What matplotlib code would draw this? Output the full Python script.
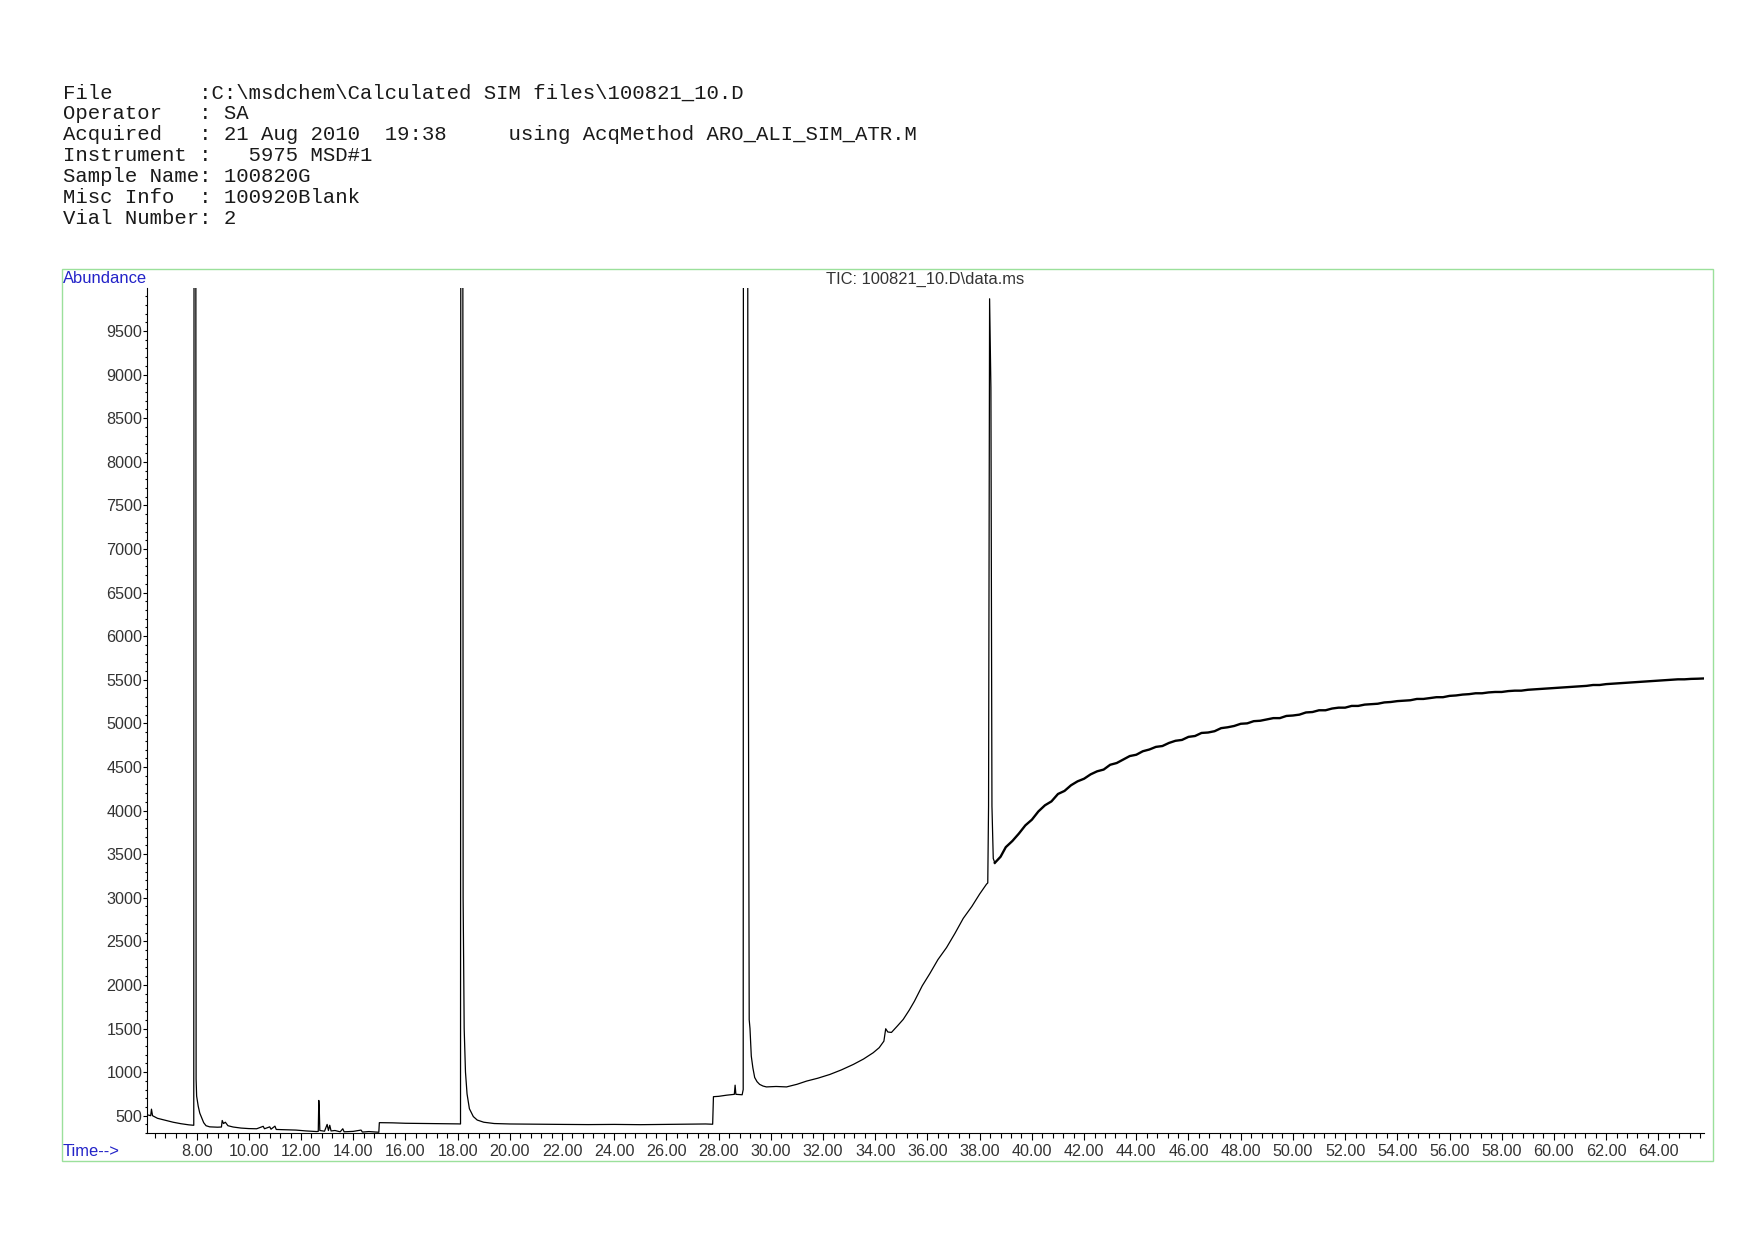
"""ChemStation-style TIC printout for 100821_10.D (SIM blank run)."""
import matplotlib
matplotlib.use("Agg")
import matplotlib.pyplot as plt
import numpy as np
from matplotlib.patches import Rectangle
from matplotlib.ticker import MultipleLocator, FormatStrFormatter

# header block, as printed above the chromatogram
header_lines = [
    r"File       :C:\msdchem\Calculated SIM files\100821_10.D",
    r"Operator   : SA",
    r"Acquired   : 21 Aug 2010  19:38     using AcqMethod ARO_ALI_SIM_ATR.M",
    r"Instrument :   5975 MSD#1",
    r"Sample Name: 100820G",
    r"Misc Info  : 100920Blank",
    r"Vial Number: 2",
]
trace_title = r"TIC: 100821_10.D\data.ms"

# retention time (min) / abundance
# start of run, peak at 7.9 min and the low baseline
t_early = [6.11, 6.24, 6.27, 6.31, 6.5, 6.8, 7.1, 7.4, 7.7, 7.89,
           7.92, 7.95, 7.98, 8.00, 8.06, 8.12, 8.19, 8.27, 8.36, 8.5, 8.8, 8.95,
           8.98, 9.03, 9.1, 9.2, 9.4, 9.7, 10.0, 10.3, 10.55, 10.6, 10.8, 10.85,
           11.0, 11.05, 11.3, 11.8, 12.2, 12.6, 12.66, 12.68, 12.70, 12.72, 12.9,
           13.0, 13.05, 13.1, 13.15, 13.3, 13.5, 13.6, 13.65, 14.0, 14.3, 14.35,
           14.6, 14.98]
a_early = [510, 500, 575, 500, 470, 448, 425, 408, 395, 390,
           30000, 30000, 920, 725, 610, 530, 480, 420, 385, 372, 368, 370,
           445, 410, 425, 385, 370, 358, 352, 350, 378, 350, 372, 345,
           380, 342, 340, 335, 325, 318, 320, 675, 560, 330, 322,
           400, 330, 390, 325, 330, 315, 350, 315, 320, 335, 312,
           318, 310]

# step at 15 min, peak at 18.15 min, flat baseline, step at 27.8 min
t_mid = [15.0, 15.5, 16.0, 17.0, 18.0, 18.11, 18.14, 18.17, 18.21, 18.25,
         18.30, 18.36, 18.45, 18.6, 18.75, 19.0, 19.4, 20.0, 21.0, 22.0, 23.0,
         24.0, 25.0, 26.0, 27.0, 27.5, 27.77, 27.80, 28.0, 28.3, 28.6, 28.63,
         28.66, 28.9, 28.94]
a_mid = [420, 418, 413, 410, 406, 405, 30000, 30000, 3000, 1500,
         1000, 750, 580, 490, 450, 425, 410, 405, 402, 400, 398,
         400, 397, 400, 402, 405, 402, 718, 722, 735, 745, 850,
         745, 740, 800]

# broad peak at 29 min, rising column-bleed hump and peak at 38.4 min
t_hump = [28.97, 29.04, 29.12, 29.17, 29.20, 29.25, 29.31, 29.38, 29.47, 29.57,
          29.7, 29.83, 30.2, 30.6, 31.0, 31.37, 31.8, 32.26, 32.7, 33.16, 33.55,
          33.92, 34.15, 34.33, 34.37, 34.40, 34.48, 34.62, 34.85, 35.07, 35.3,
          35.5, 35.8, 36.09, 36.4, 36.73, 37.05, 37.37, 37.7, 38.0, 38.26, 38.31,
          38.34, 38.38, 38.43, 38.47, 38.52, 38.58]
a_hump = [40000, 40000, 8000, 1600, 1500, 1183, 1050, 938, 890, 859,
          840, 830, 835, 830, 860, 897, 930, 973, 1025, 1088, 1150,
          1222, 1280, 1355, 1440, 1497, 1460, 1455, 1530, 1604, 1710,
          1813, 1990, 2130, 2290, 2428, 2590, 2763, 2900, 3043, 3155, 3170,
          4050, 9870, 8850, 4050, 3450, 3400]

# noisy plateau to the end of the run
t_late = [38.8, 39.0, 39.25, 39.5, 39.75, 40.0, 40.25, 40.5, 40.75, 41.0,
          41.25, 41.5, 41.75, 42.0, 42.25, 42.5, 42.75, 43.0, 43.25, 43.5,
          43.75, 44.0, 44.25, 44.5, 44.75, 45.0, 45.25, 45.5, 45.75, 46.0,
          46.25, 46.5, 46.75, 47.0, 47.25, 47.5, 47.75, 48.0, 48.25, 48.5,
          48.75, 49.0, 49.25, 49.5, 49.75, 50.0, 50.25, 50.5, 50.75, 51.0,
          51.25, 51.5, 51.75, 52.0, 52.25, 52.5, 52.75, 53.0, 53.25, 53.5,
          53.75, 54.0, 54.25, 54.5, 54.75, 55.0, 55.25, 55.5, 55.75, 56.0,
          56.25, 56.5, 56.75, 57.0, 57.25, 57.5, 57.75, 58.0, 58.25, 58.5,
          58.75, 59.0, 59.25, 59.5, 59.75, 60.0, 60.25, 60.5, 60.75, 61.0,
          61.25, 61.5, 61.75, 62.0, 62.25, 62.5, 62.75, 63.0, 63.25, 63.5,
          63.75, 64.0, 64.25, 64.5, 64.75, 65.0, 65.25, 65.5, 65.75]
a_late = [3470, 3580, 3650, 3735, 3830, 3895, 3990, 4060, 4105, 4190,
          4225, 4290, 4335, 4365, 4415, 4450, 4470, 4525, 4545, 4585,
          4625, 4640, 4680, 4700, 4730, 4740, 4775, 4800, 4810, 4845,
          4855, 4890, 4895, 4910, 4945, 4955, 4970, 4995, 5000, 5025,
          5030, 5045, 5060, 5060, 5085, 5090, 5100, 5125, 5130, 5150,
          5150, 5170, 5180, 5180, 5200, 5200, 5215, 5220, 5225, 5240,
          5245, 5255, 5260, 5265, 5280, 5280, 5290, 5300, 5300, 5315,
          5320, 5330, 5335, 5345, 5345, 5355, 5360, 5360, 5370, 5375,
          5375, 5385, 5390, 5395, 5400, 5405, 5410, 5415, 5420, 5425,
          5430, 5440, 5440, 5450, 5455, 5460, 5465, 5470, 5475, 5480,
          5485, 5490, 5495, 5500, 5505, 5505, 5510, 5512, 5515]

x_range = (6.11, 65.75)
y_range = (298, 9990)

W, H = 1754, 1240
fig = plt.figure(figsize=(W / 100, H / 100), dpi=100)

mono = ["Liberation Mono", "DejaVu Sans Mono"]
sans = ["Liberation Sans", "DejaVu Sans"]

# header text, one line at a time (Courier-like, fixed pitch)
for i, line in enumerate(header_lines):
    fig.text(62.6 / W, 1 - (92.8 + 20.9 * i) / H, line, family=mono,
             fontsize=14.9, va="center", ha="left", color="#1a1a1a")

# light-green frame around the plot region
fig.add_artist(Rectangle((62.3 / W, 1 - 1160.7 / H), (1713 - 62.3) / W,
                         (1160.7 - 269.3) / H, transform=fig.transFigure,
                         fill=False, edgecolor="#9be09b", lw=1.0))

ax = fig.add_axes([147.3 / W, 1 - 1133.3 / H, (1704 - 147.3) / W, (1133.3 - 288.3) / H])
t = np.array(t_early + t_mid + t_hump)
a = np.array(a_early + a_mid + a_hump)
ax.plot(t, a, color="black", lw=0.9)
# the late part is a hairy noise band in the print, so draw it heavier
ax.plot([t_hump[-1]] + t_late, [a_hump[-1]] + a_late, color="black", lw=1.7,
        solid_joinstyle="round")

ax.set_xlim(*x_range)
ax.set_ylim(*y_range)
for side in ("top", "right"):
    ax.spines[side].set_visible(False)
for side in ("left", "bottom"):
    ax.spines[side].set_linewidth(0.8)

ax.xaxis.set_major_locator(MultipleLocator(2))
ax.xaxis.set_minor_locator(MultipleLocator(0.4))
ax.xaxis.set_major_formatter(FormatStrFormatter("%.2f"))
ax.yaxis.set_major_locator(MultipleLocator(500))
ax.yaxis.set_minor_locator(MultipleLocator(100))
ax.tick_params(axis="x", which="major", length=5, width=0.8, pad=2.5,
               labelsize=11.6, labelcolor="#333333")
ax.tick_params(axis="x", which="minor", length=3.6, width=0.8)
ax.tick_params(axis="y", which="major", length=3, width=0.8, pad=0.5,
               labelsize=11.6, labelcolor="#333333")
ax.tick_params(axis="y", which="minor", length=1.5, width=0.8)
# the 66.00 label would fall outside the axis
ax.set_xticks([v for v in np.arange(8, 66, 2)])
for lab in ax.get_xticklabels() + ax.get_yticklabels():
    lab.set_family(sans)

fig.text(62.6 / W, 1 - 278.5 / H, "Abundance", family=sans, fontsize=11.9,
         color="#2323c8", va="center", ha="left")
fig.text(62.6 / W, 1 - 1151 / H, "Time-->", family=sans, fontsize=11.9,
         color="#2323c8", va="center", ha="left")
fig.text(925.6 / W, 1 - 279.6 / H, trace_title, family=sans, fontsize=11.9,
         color="#333333", va="center", ha="center")

fig.savefig("out.png", dpi=100, facecolor="white")
